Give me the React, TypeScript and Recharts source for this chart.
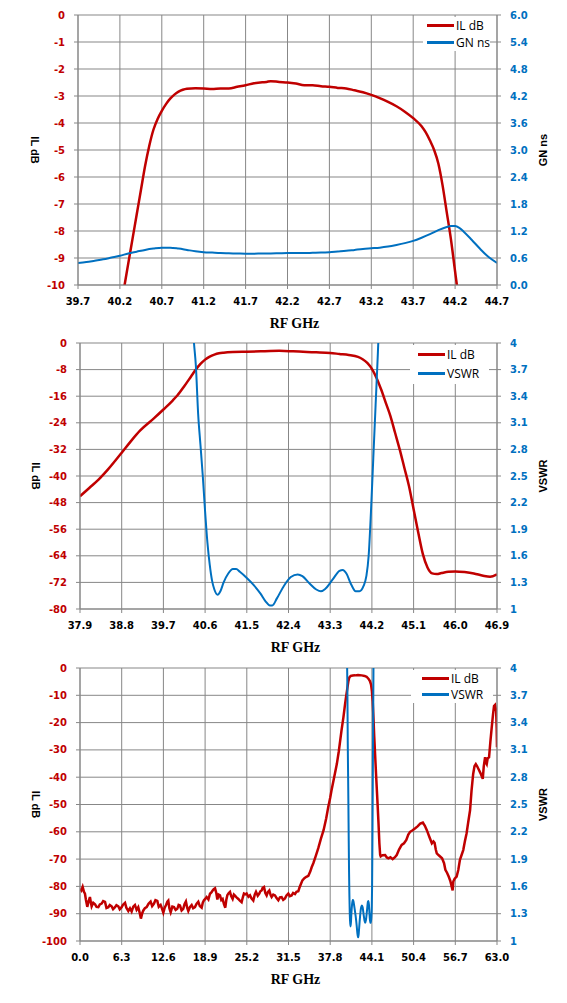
import React from "react";
import { LineChart, Line, XAxis, YAxis, CartesianGrid, Legend } from "recharts";

const RED = "#c00000";
const BLUE = "#0070c0";
const GRID = "#878787";

type Pt = [number, number];

// ---- panel 1: passband IL and group delay ----
const p1Freq = [39.7, 40.2, 40.7, 41.2, 41.7, 42.2, 42.7, 43.2, 43.7, 44.2, 44.7];
const p1IlTicks = [-10, -9, -8, -7, -6, -5, -4, -3, -2, -1, 0];
const p1GnTicks = [0, 0.6, 1.2, 1.8, 2.4, 3.0, 3.6, 4.2, 4.8, 5.4, 6.0];
const p1Il: Pt[] = [
  [40.2, -11.0], [40.256, -10.0], [40.3, -9.2], [40.35, -8.3], [40.4, -7.4], [40.45, -6.5],
  [40.5, -5.6], [40.55, -4.85], [40.6, -4.25], [40.65, -3.85], [40.7, -3.55], [40.75, -3.3],
  [40.8, -3.1], [40.85, -2.95], [40.9, -2.84], [40.95, -2.77], [41.0, -2.73], [41.1, -2.71],
  [41.2, -2.72], [41.3, -2.74], [41.4, -2.72], [41.5, -2.72], [41.6, -2.66], [41.7, -2.6],
  [41.8, -2.53], [41.9, -2.49], [41.95, -2.48], [42.0, -2.45], [42.1, -2.48], [42.2, -2.5],
  [42.3, -2.54], [42.4, -2.6], [42.5, -2.6], [42.6, -2.64], [42.7, -2.66], [42.8, -2.7],
  [42.9, -2.72], [43.0, -2.79], [43.1, -2.86], [43.2, -2.96], [43.3, -3.08], [43.4, -3.22],
  [43.5, -3.38], [43.6, -3.58], [43.7, -3.82], [43.8, -4.12], [43.85, -4.35], [43.9, -4.65],
  [43.95, -5.0], [44.0, -5.5], [44.05, -6.3], [44.1, -7.3], [44.15, -8.3], [44.2, -9.5],
  [44.23, -10.2], [44.27, -11.0],
];
const p1Gn: Pt[] = [
  [39.7, 0.49], [39.8, 0.51], [39.9, 0.54], [40.0, 0.57], [40.1, 0.61], [40.2, 0.65],
  [40.3, 0.7], [40.4, 0.74], [40.5, 0.78], [40.6, 0.81], [40.7, 0.83], [40.8, 0.83],
  [40.9, 0.81], [41.0, 0.78], [41.1, 0.75], [41.2, 0.73], [41.3, 0.72], [41.4, 0.71],
  [41.5, 0.705], [41.6, 0.7], [41.7, 0.695], [41.8, 0.695], [41.9, 0.7], [42.0, 0.7],
  [42.1, 0.705], [42.2, 0.71], [42.3, 0.71], [42.4, 0.71], [42.5, 0.715], [42.6, 0.72],
  [42.7, 0.73], [42.8, 0.745], [42.9, 0.76], [43.0, 0.78], [43.1, 0.8], [43.2, 0.815],
  [43.3, 0.83], [43.4, 0.855], [43.5, 0.89], [43.6, 0.93], [43.7, 0.98], [43.8, 1.05],
  [43.9, 1.13], [44.0, 1.22], [44.1, 1.29], [44.15, 1.31], [44.2, 1.31], [44.25, 1.27],
  [44.3, 1.19], [44.4, 1.0], [44.5, 0.8], [44.6, 0.62], [44.7, 0.49],
];

// ---- panel 2: near band IL and VSWR ----
const p2Freq = [37.9, 38.8, 39.7, 40.6, 41.5, 42.4, 43.3, 44.2, 45.1, 46.0, 46.9];
const p2IlTicks = [-80, -72, -64, -56, -48, -40, -32, -24, -16, -8, 0];
const vswrTicks = [1, 1.3, 1.6, 1.9, 2.2, 2.5, 2.8, 3.1, 3.4, 3.7, 4];
const p2Il: Pt[] = [
  [37.9, -46.1], [38.1, -43.6], [38.3, -41.1], [38.5, -38.1], [38.8, -33.0], [39.0, -29.5],
  [39.2, -26.3], [39.5, -22.6], [39.7, -20.0], [39.9, -17.3], [40.0, -15.8], [40.15, -13.0],
  [40.3, -10.0], [40.4, -8.0], [40.5, -6.3], [40.6, -5.0], [40.7, -4.1], [40.8, -3.5],
  [40.9, -3.1], [41.0, -2.9], [41.2, -2.7], [41.5, -2.6], [41.8, -2.5], [42.0, -2.4],
  [42.2, -2.35], [42.5, -2.5], [42.8, -2.7], [43.0, -2.8], [43.3, -3.0], [43.5, -3.3],
  [43.7, -3.6], [43.9, -4.2], [44.0, -4.9], [44.1, -6.0], [44.2, -7.8], [44.3, -10.5],
  [44.4, -14.0], [44.5, -18.0], [44.6, -22.0], [44.7, -27.0], [44.8, -32.0], [44.9, -37.5],
  [45.0, -43.0], [45.1, -50.0], [45.2, -57.0], [45.3, -63.5], [45.4, -67.5], [45.5, -69.3],
  [45.6, -69.5], [45.7, -69.2], [45.85, -68.8], [46.0, -68.7], [46.2, -68.9], [46.4, -69.3],
  [46.6, -70.0], [46.75, -70.3], [46.9, -69.6],
];
const vswr: Pt[] = [
  [40.3, 4.5], [40.36, 4.0], [40.4, 3.75], [40.45, 3.2], [40.5, 2.85], [40.55, 2.5],
  [40.6, 2.1], [40.65, 1.75], [40.7, 1.5], [40.75, 1.32], [40.8, 1.22], [40.87, 1.16],
  [40.93, 1.2], [41.0, 1.3], [41.1, 1.4], [41.2, 1.45], [41.27, 1.45], [41.35, 1.42],
  [41.5, 1.35], [41.65, 1.27], [41.8, 1.17], [41.9, 1.09], [42.0, 1.04], [42.05, 1.04],
  [42.15, 1.12], [42.3, 1.26], [42.45, 1.36], [42.6, 1.39], [42.7, 1.37], [42.85, 1.29],
  [43.0, 1.22], [43.1, 1.2], [43.2, 1.23], [43.35, 1.33], [43.5, 1.43], [43.57, 1.44],
  [43.65, 1.4], [43.75, 1.28], [43.85, 1.2], [43.93, 1.2], [44.02, 1.26], [44.08, 1.37],
  [44.13, 1.6], [44.18, 2.1], [44.23, 2.7], [44.28, 3.3], [44.33, 3.9], [44.36, 4.3],
  [44.38, 4.6],
];

// ---- panel 3: wideband IL 0-63 GHz ----
const p3Freq = [0, 6.3, 12.6, 18.9, 25.2, 31.5, 37.8, 44.1, 50.4, 56.7, 63.0];
const p3IlTicks = [-100, -90, -80, -70, -60, -50, -40, -30, -20, -10, 0];
const p3Il: Pt[] = [
  [0, -80.9], [0.2, -81.5], [0.4, -80.2], [0.6, -82.0], [0.75, -82.7], [0.9, -85.0],
  [1.1, -87.5], [1.3, -85.5], [1.5, -83.9], [1.65, -86.0], [1.76, -87.3], [2.0, -86.0],
  [2.27, -86.6], [2.5, -87.5], [2.77, -87.6], [3.0, -86.6], [3.27, -86.3], [3.5, -85.4],
  [3.78, -85.7], [4.0, -87.9], [4.28, -87.6], [4.5, -86.8], [4.78, -87.3], [5.0, -88.3],
  [5.29, -87.6], [5.5, -86.9], [5.79, -87.3], [6.0, -88.4], [6.29, -87.6], [6.5, -86.7],
  [6.8, -86.0], [7.0, -87.8], [7.3, -89.0], [7.55, -88.0], [7.8, -89.2], [8.05, -87.4],
  [8.3, -86.8], [8.55, -88.6], [8.8, -87.6], [9.0, -89.5], [9.2, -91.8], [9.4, -89.8],
  [9.57, -88.8], [9.8, -88.0], [10.07, -87.6], [10.35, -86.4], [10.67, -85.6], [10.9, -87.2],
  [11.18, -86.3], [11.4, -85.0], [11.68, -85.3], [11.9, -87.5], [12.18, -86.8], [12.4, -88.2],
  [12.59, -89.6], [12.8, -87.8], [13.0, -86.8], [13.2, -85.6], [13.34, -85.2], [13.5, -88.0],
  [13.7, -89.5], [13.95, -87.4], [14.2, -87.6], [14.45, -88.6], [14.7, -88.2], [14.9, -86.8],
  [15.1, -87.0], [15.35, -88.8], [15.6, -88.2], [15.8, -86.4], [16.0, -85.5], [16.2, -87.9],
  [16.36, -89.0], [16.6, -87.6], [16.87, -86.8], [17.1, -88.0], [17.37, -87.6], [17.6, -86.4],
  [17.87, -85.6], [18.1, -87.2], [18.38, -87.8], [18.55, -86.0], [18.73, -85.1], [18.95, -84.5],
  [19.13, -83.9], [19.4, -84.8], [19.64, -82.7], [19.85, -82.2], [20.04, -81.5], [20.2, -81.0],
  [20.4, -80.7], [20.6, -82.5], [20.75, -84.8], [20.95, -83.0], [21.15, -83.3], [21.35, -85.0],
  [21.55, -84.6], [21.75, -86.5], [21.95, -87.8], [22.1, -85.0], [22.26, -83.2], [22.45, -82.5],
  [22.66, -82.0], [22.85, -83.6], [23.06, -84.6], [23.25, -83.0], [23.41, -83.4], [23.65, -84.0],
  [23.92, -84.6], [24.15, -85.2], [24.42, -85.8], [24.6, -84.0], [24.77, -82.6], [25.0, -82.9],
  [25.18, -82.6], [25.45, -83.8], [25.68, -83.3], [25.9, -84.4], [26.18, -85.2], [26.4, -83.0],
  [26.59, -82.0], [26.85, -83.4], [27.09, -82.6], [27.25, -81.8], [27.44, -81.5], [27.6, -80.5],
  [27.8, -80.2], [28.0, -82.4], [28.2, -83.3], [28.4, -82.0], [28.6, -81.5], [28.8, -83.2],
  [28.95, -83.9], [29.2, -83.0], [29.46, -83.3], [29.7, -84.3], [29.96, -85.1], [30.2, -84.0],
  [30.46, -83.9], [30.7, -84.9], [30.97, -84.4], [31.2, -83.3], [31.47, -82.6], [31.7, -83.6],
  [31.97, -83.3], [32.2, -82.4], [32.48, -82.8], [32.7, -82.0], [32.98, -81.8], [33.15, -80.5],
  [33.33, -79.4], [33.6, -77.8], [33.9, -77.0], [34.2, -76.5], [34.5, -76.1], [34.8, -74.5],
  [35.0, -73.0], [35.25, -71.5], [35.6, -69.0], [36.0, -66.0], [36.4, -62.5], [36.8, -59.4],
  [37.2, -55.0], [37.5, -51.0], [37.8, -47.5], [38.0, -44.8], [38.4, -40.0], [38.8, -35.2],
  [39.1, -30.5], [39.5, -23.0], [39.8, -18.0], [40.04, -13.3], [40.2, -10.5], [40.4, -7.3],
  [40.55, -4.8], [40.7, -3.4], [40.9, -2.9], [41.2, -2.75], [41.55, -2.7], [42.0, -2.6],
  [42.56, -2.7], [43.0, -2.9], [43.3, -3.2], [43.57, -3.9], [43.8, -4.8], [43.97, -6.1],
  [44.1, -8.5], [44.22, -12.1], [44.35, -19.0], [44.45, -25.0], [44.58, -31.5], [44.75, -40.0],
  [44.93, -48.5], [45.1, -57.0], [45.23, -64.2], [45.35, -68.5], [45.43, -69.0], [45.7, -68.6],
  [46.1, -68.5], [46.35, -69.4], [46.6, -69.7], [46.9, -69.3], [47.24, -70.0], [47.55, -69.4],
  [47.85, -68.5], [48.2, -66.5], [48.6, -64.8], [48.95, -64.2], [49.3, -63.0], [49.6, -61.0],
  [49.87, -60.0], [50.2, -59.5], [50.6, -58.8], [51.0, -58.0], [51.4, -57.0], [51.8, -56.6],
  [52.1, -57.8], [52.4, -59.4], [52.8, -62.0], [53.16, -64.2], [53.4, -63.5], [53.57, -64.0],
  [53.75, -66.5], [53.9, -67.9], [54.2, -68.6], [54.7, -69.7], [55.0, -71.5], [55.2, -73.9],
  [55.45, -75.0], [55.7, -76.4], [55.95, -78.0], [56.2, -80.6], [56.3, -81.5], [56.4, -78.2],
  [56.6, -77.2], [56.9, -76.4], [57.15, -74.0], [57.4, -70.3], [57.65, -68.5], [57.9, -66.7],
  [58.15, -63.5], [58.4, -60.6], [58.65, -56.5], [58.93, -52.1], [59.15, -45.0], [59.4, -38.8],
  [59.6, -36.0], [59.8, -35.2], [60.0, -36.0], [60.2, -37.0], [60.5, -38.5], [60.85, -40.6],
  [61.0, -36.0], [61.2, -32.7], [61.3, -34.5], [61.45, -35.2], [61.6, -33.0], [61.8, -32.7],
  [62.0, -27.0], [62.2, -21.8], [62.4, -17.0], [62.55, -13.9], [62.7, -13.5], [62.87, -15.8],
  [62.95, -22.0], [63.0, -29.0],
];

const rows = (pts: Pt[]) => pts.map(([f, v]) => ({ f, v }));

const tickFont = { fontSize: 10, fontWeight: "bold", fontFamily: "DejaVu Sans" } as const;
const titleFont = { fontSize: 11, fontWeight: "bold", fontFamily: "Liberation Sans" } as const;

type Box = { left: number; top: number; width: number; height: number; pad: number; row: number };

// IL dB always listed first, like the original legend
function legendContent(box: Box) {
  return (props: any) => {
    const items = [...(props.payload || [])].sort(
      (a: any, b: any) => (a.value === "IL dB" ? 0 : 1) - (b.value === "IL dB" ? 0 : 1)
    );
    return (
      <div
        style={{
          background: "#fff",
          width: box.width,
          height: box.height,
          paddingLeft: box.pad,
          boxSizing: "border-box",
          fontFamily: "Open Sans",
          fontSize: 12,
          color: "#000",
        }}
      >
        {items.map((p: any) => (
          <div key={p.value} style={{ display: "flex", alignItems: "center", height: box.row }}>
            <span style={{ display: "inline-block", width: 27, height: 3, background: p.color, marginRight: 2 }} />
            <span>{p.value}</span>
          </div>
        ))}
      </div>
    );
  };
}

type PanelProps = {
  height: number;
  top: number;
  leftW: number;
  axisH: number;
  xTicks: number[];
  lTicks: number[];
  rTicks: number[];
  rFmt: (v: number) => string;
  rTitle: string;
  il: Pt[];
  right: Pt[];
  rightName: string;
  box: Box;
  smooth: boolean;
};

function Panel(p: PanelProps) {
  const xDom = [p.xTicks[0], p.xTicks[p.xTicks.length - 1]];
  const lDom = [p.lTicks[0], p.lTicks[p.lTicks.length - 1]];
  const rDom = [p.rTicks[0], p.rTicks[p.rTicks.length - 1]];
  return (
    <LineChart width={567} height={p.height} margin={{ top: p.top, right: 0, bottom: 0, left: 0 }}>
      <CartesianGrid stroke={GRID} strokeWidth={1} />
      <XAxis
        type="number"
        dataKey="f"
        domain={xDom}
        ticks={p.xTicks}
        allowDataOverflow
        height={p.axisH}
        stroke={GRID}
        tickSize={4}
        tickMargin={9}
        tick={{ ...tickFont, fill: "#000" }}
        tickFormatter={(v: number) => v.toFixed(1)}
        label={{
          value: "RF GHz",
          position: "insideTop",
          offset: 33,
          dx: 7,
          fill: "#000",
          fontSize: 14,
          fontWeight: "bold",
          fontFamily: "Liberation Serif",
        }}
      />
      <YAxis
        domain={lDom}
        ticks={p.lTicks}
        allowDataOverflow
        width={p.leftW}
        stroke={GRID}
        tickSize={4}
        tickMargin={9}
        tick={{ ...tickFont, fill: RED }}
        label={{ value: "IL dB", angle: 90, position: "center", dx: -4, fill: "#000", ...titleFont }}
      />
      <YAxis
        yAxisId="r"
        orientation="right"
        domain={rDom}
        ticks={p.rTicks}
        allowDataOverflow
        width={70}
        stroke={GRID}
        tickSize={4}
        tickMargin={9}
        tick={{ ...tickFont, fill: BLUE }}
        tickFormatter={p.rFmt}
        label={{ value: p.rTitle, angle: -90, position: "center", dx: 11, fill: "#000", ...titleFont }}
      />
      <Legend
        layout="vertical"
        align="center"
        verticalAlign="middle"
        wrapperStyle={{ left: p.box.left, top: p.box.top, width: "auto", height: "auto" }}
        content={legendContent(p.box)}
      />
      <Line
        data={rows(p.il)}
        dataKey="v"
        name="IL dB"
        type={p.smooth ? "monotone" : "linear"}
        stroke={RED}
        strokeWidth={2.5}
        dot={false}
        activeDot={false}
        isAnimationActive={false}
      />
      <Line
        yAxisId="r"
        data={rows(p.right)}
        dataKey="v"
        name={p.rightName}
        type="monotone"
        stroke={BLUE}
        strokeWidth={2}
        dot={false}
        activeDot={false}
        isAnimationActive={false}
      />
    </LineChart>
  );
}

const vswrFmt = (v: number) => String(Number(v.toFixed(1)));

export default function App() {
  return (
    <div style={{ position: "absolute", left: 0, top: 0, width: 567, background: "#fff" }}>
      <Panel
        height={330}
        top={15}
        leftW={78}
        axisH={45}
        xTicks={p1Freq}
        lTicks={p1IlTicks}
        rTicks={p1GnTicks}
        rFmt={(v) => v.toFixed(1)}
        rTitle="GN ns"
        il={p1Il}
        right={p1Gn}
        rightName="GN ns"
        box={{ left: 423, top: 17, width: 67, height: 34, pad: 4, row: 17 }}
        smooth
      />
      <Panel
        height={325}
        top={13}
        leftW={80}
        axisH={46}
        xTicks={p2Freq}
        lTicks={p2IlTicks}
        rTicks={vswrTicks}
        rFmt={vswrFmt}
        rTitle="VSWR"
        il={p2Il}
        right={vswr}
        rightName="VSWR"
        box={{ left: 410, top: 15, width: 79, height: 39, pad: 8, row: 19 }}
        smooth
      />
      <Panel
        height={348}
        top={13}
        leftW={80}
        axisH={62}
        xTicks={p3Freq}
        lTicks={p3IlTicks}
        rTicks={vswrTicks}
        rFmt={vswrFmt}
        rTitle="VSWR"
        il={p3Il}
        right={vswr}
        rightName="VSWR"
        box={{ left: 411, top: 15, width: 82, height: 33, pad: 11, row: 16 }}
        smooth={false}
      />
    </div>
  );
}
